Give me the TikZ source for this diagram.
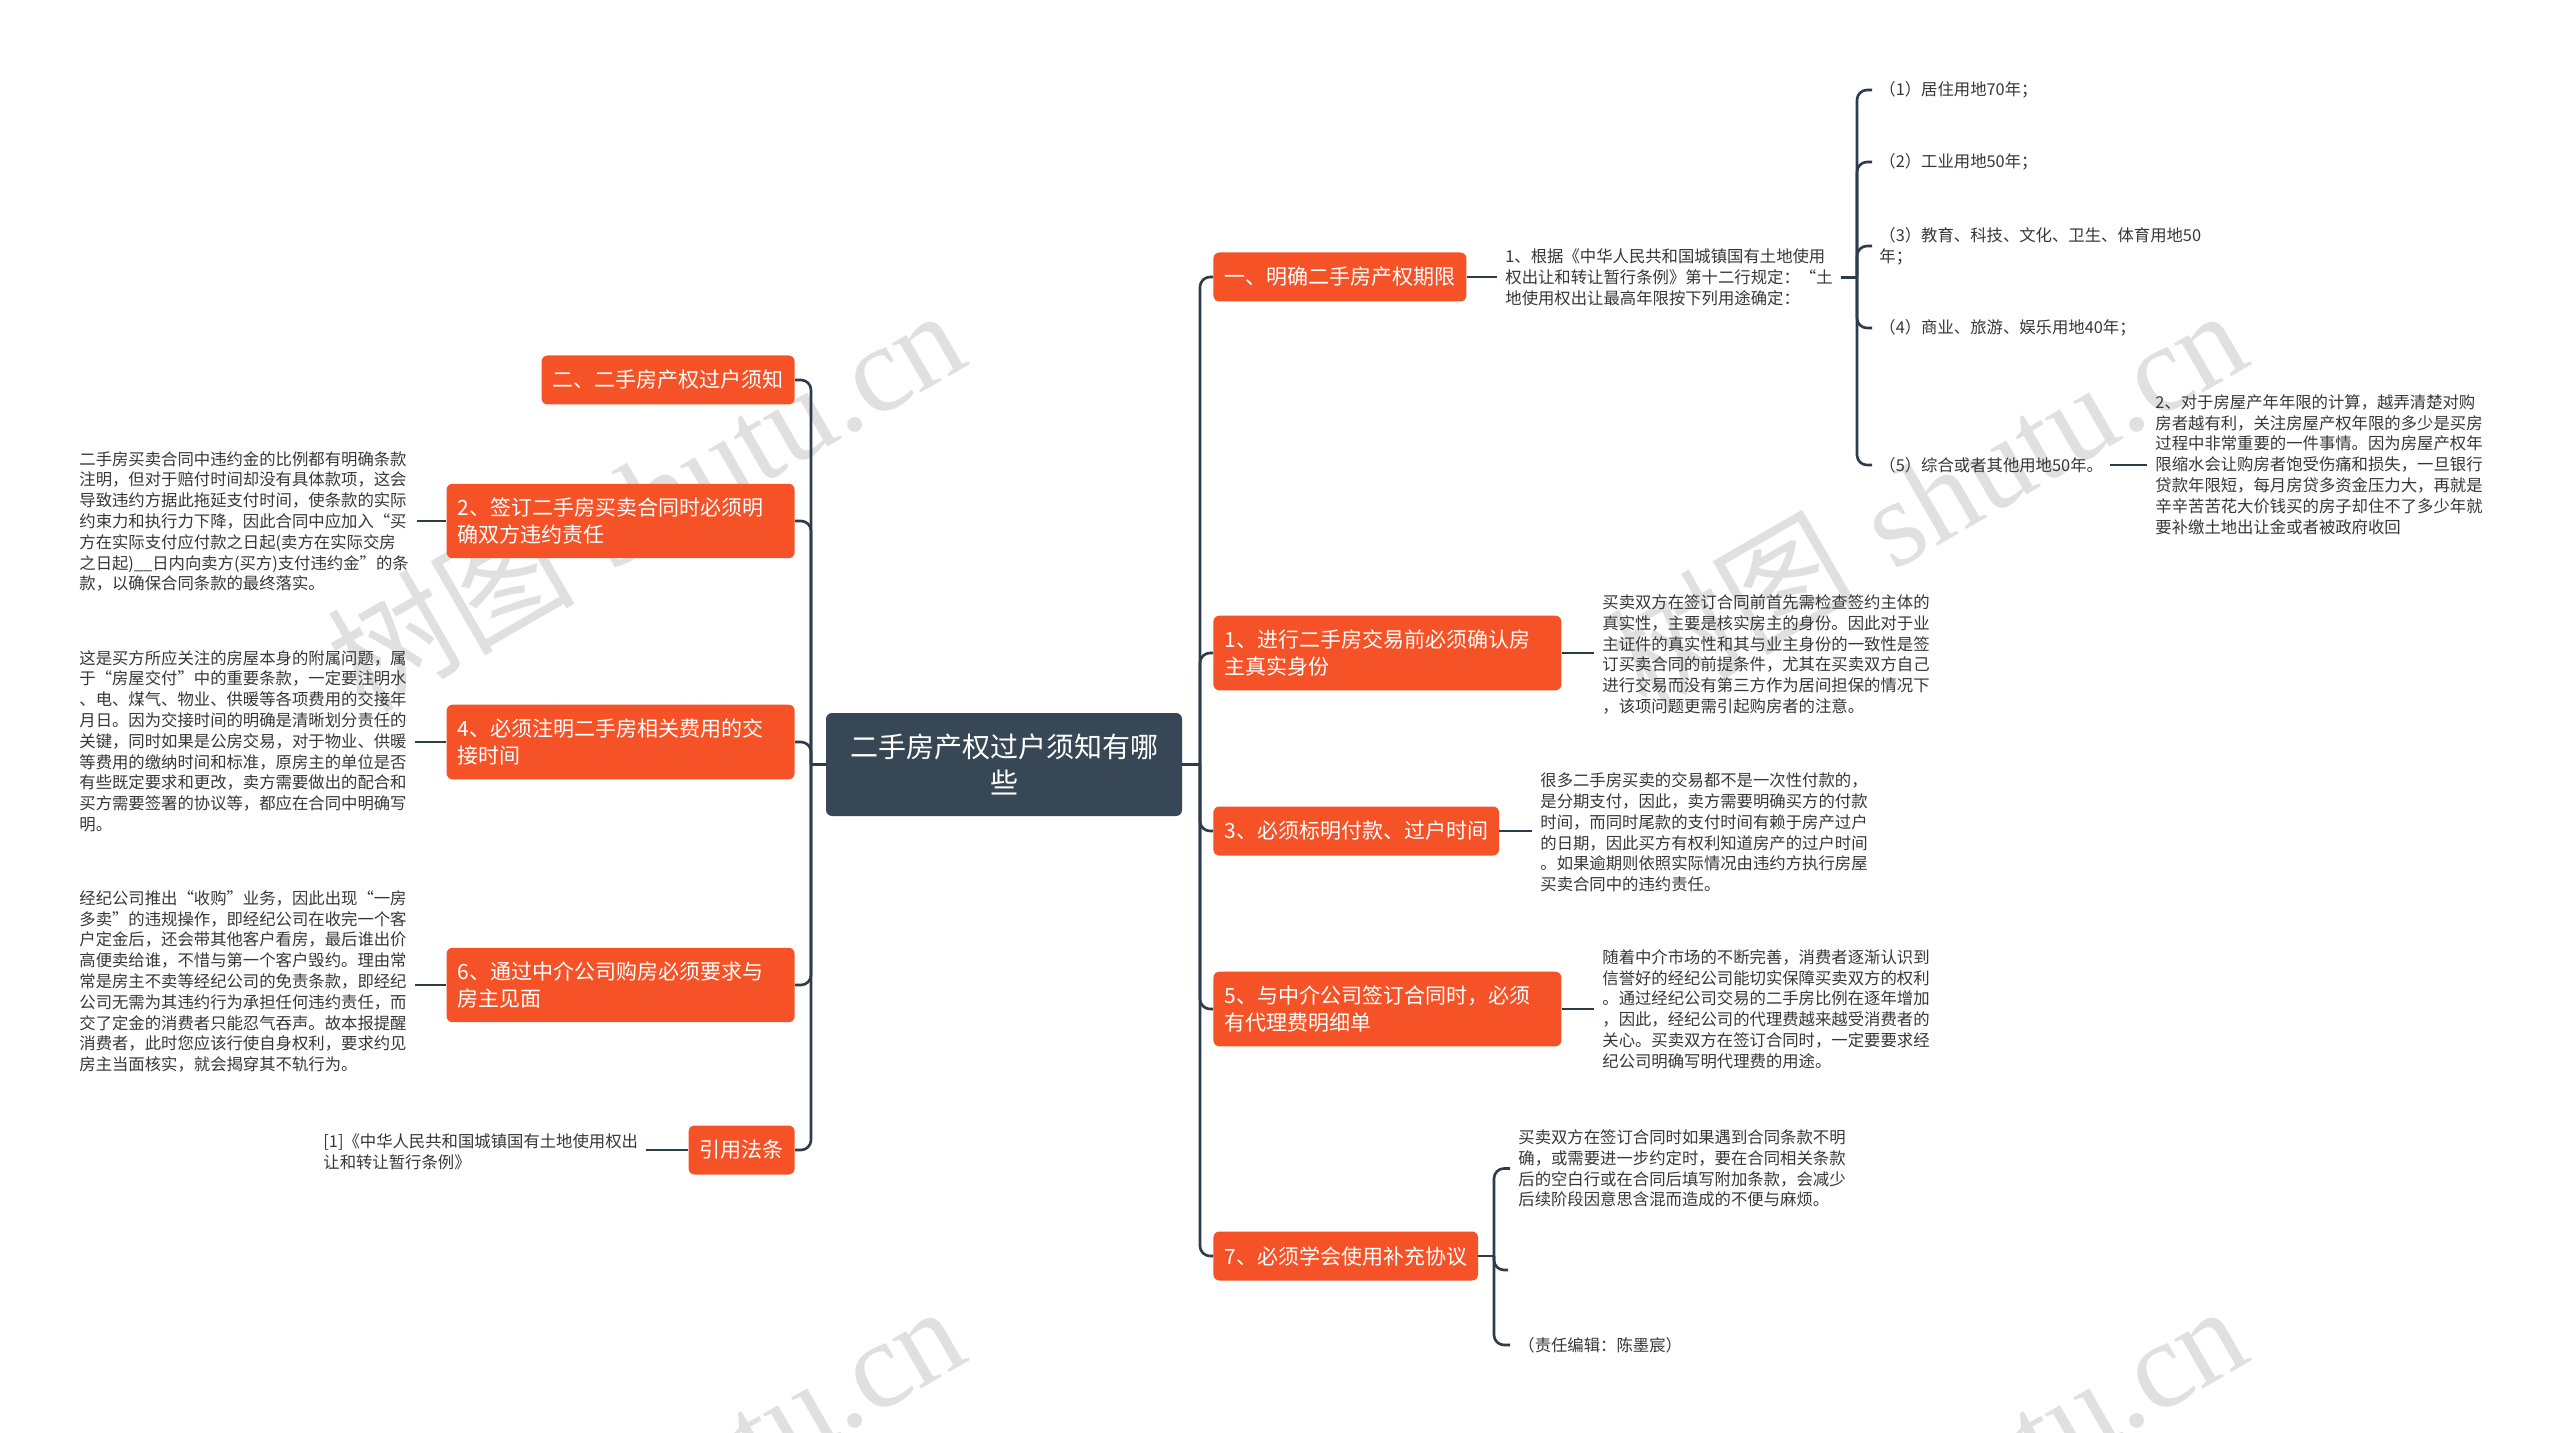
\documentclass[tikz,border=0pt]{standalone}
\usepackage{fontspec}
\newfontfamily\cjk{Noto Sans CJK SC}
\newfontfamily\wmfont{Liberation Serif}
\definecolor{orangec}{RGB}{245,82,40}
\definecolor{darkc}{RGB}{55,71,86}
\definecolor{linec}{RGB}{45,60,75}
\definecolor{textc}{RGB}{55,55,55}
\definecolor{wmc}{RGB}{224,224,224}
\begin{document}
\begin{tikzpicture}[x=0.5pt,y=-0.5pt,
  conn/.style={draw=linec, line width=1.3pt},
  rconn/.style={conn, rounded corners=5pt},
  branch/.style={fill=orangec, text=white, rounded corners=3pt,
    font=\cjk\fontsize{10.5pt}{13.5pt}\selectfont, inner xsep=5.5pt, inner ysep=7pt,
    minimum height=24.5pt, align=left},
  branchtwo/.style={branch, text width=163pt},
  centerbox/.style={fill=darkc, text=white, rounded corners=3pt,
    font=\cjk\fontsize{14pt}{18pt}\selectfont, text width=160pt, align=center,
    minimum width=178pt, minimum height=51.5pt, inner sep=0pt},
  txt/.style={font=\cjk\fontsize{8.18pt}{10.4pt}\selectfont, text=textc, align=left,
    inner xsep=4pt, inner ysep=0pt},
  itemtxt/.style={txt, inner xsep=3.5pt},
  wm/.style={text=wmc, rotate=30, inner sep=0pt}
]
\useasboundingbox (0,0) rectangle (2560,1433);
\fill[white] (0,0) rectangle (2560,1433);

% watermarks
\begin{scope}
\clip (0,0) rectangle (2560,1433);
\node[wm] (w1) at (645,498) {\fontsize{62pt}{62pt}\selectfont{\cjk 树图} {\wmfont shutu.cn}};
\node[wm] (w2) at (1927,498) {\fontsize{62pt}{62pt}\selectfont{\cjk 树图} {\wmfont shutu.cn}};
\node[wm] (w3) at (645,1494) {\fontsize{62pt}{62pt}\selectfont{\cjk 树图} {\wmfont shutu.cn}};
\node[wm] (w4) at (1927,1494) {\fontsize{62pt}{62pt}\selectfont{\cjk 树图} {\wmfont shutu.cn}};
\end{scope}

% center
\node[centerbox] (c) at (1004,764.5) {二手房产权过户须知有哪\\些};

% right branches
\node[branch, anchor=west] (b1) at (1213,277) {一、明确二手房产权期限};
\node[branchtwo, anchor=west] (b2) at (1213,653) {1、进行二手房交易前必须确认房\\主真实身份};
\node[branch, anchor=west] (b3) at (1213,831) {3、必须标明付款、过户时间};
\node[branchtwo, anchor=west] (b4) at (1213,1009) {5、与中介公司签订合同时，必须\\有代理费明细单};
\node[branch, anchor=west] (b5) at (1213,1256) {7、必须学会使用补充协议};

% left branches
\node[branch, anchor=east] (lb1) at (795,380) {二、二手房产权过户须知};
\node[branchtwo, anchor=east] (lb2) at (795,521) {2、签订二手房买卖合同时必须明\\确双方违约责任};
\node[branchtwo, anchor=east] (lb3) at (795,742) {4、必须注明二手房相关费用的交\\接时间};
\node[branchtwo, anchor=east] (lb4) at (795,985) {6、通过中介公司购房必须要求与\\房主见面};
\node[branch, anchor=east] (lb5) at (795,1150) {引用法条};

% right texts
\node[txt, anchor=west] (t1) at (1497,277.5) {1、根据《中华人民共和国城镇国有土地使用\\权出让和转让暂行条例》第十二行规定：“土\\地使用权出让最高年限按下列用途确定：};
\node[itemtxt, anchor=west] (i1) at (1872,90) {（1）居住用地70年；};
\node[itemtxt, anchor=west] (i2) at (1872,162) {（2）工业用地50年；};
\node[itemtxt, anchor=west] (i3) at (1872,246) {（3）教育、科技、文化、卫生、体育用地50\\年；};
\node[itemtxt, anchor=west] (i4) at (1872,328) {（4）商业、旅游、娱乐用地40年；};
\node[itemtxt, anchor=west] (i5) at (1872,465) {（5）综合或者其他用地50年。};
\node[txt, anchor=west] (t1b) at (2147,464.5) {2、对于房屋产年年限的计算，越弄清楚对购\\房者越有利，关注房屋产权年限的多少是买房\\过程中非常重要的一件事情。因为房屋产权年\\限缩水会让购房者饱受伤痛和损失，一旦银行\\贷款年限短，每月房贷多资金压力大，再就是\\辛辛苦苦花大价钱买的房子却住不了多少年就\\要补缴土地出让金或者被政府收回};
\node[txt, anchor=west] (t2) at (1594,654.5) {买卖双方在签订合同前首先需检查签约主体的\\真实性，主要是核实房主的身份。因此对于业\\主证件的真实性和其与业主身份的一致性是签\\订买卖合同的前提条件，尤其在买卖双方自己\\进行交易而没有第三方作为居间担保的情况下\\，该项问题更需引起购房者的注意。};
\node[txt, anchor=west] (t3) at (1532,832.5) {很多二手房买卖的交易都不是一次性付款的，\\是分期支付，因此，卖方需要明确买方的付款\\时间，而同时尾款的支付时间有赖于房产过户\\的日期，因此买方有权利知道房产的过户时间\\。如果逾期则依照实际情况由违约方执行房屋\\买卖合同中的违约责任。};
\node[txt, anchor=west] (t4) at (1594,1009) {随着中介市场的不断完善，消费者逐渐认识到\\信誉好的经纪公司能切实保障买卖双方的权利\\。通过经纪公司交易的二手房比例在逐年增加\\，因此，经纪公司的代理费越来越受消费者的\\关心。买卖双方在签订合同时，一定要要求经\\纪公司明确写明代理费的用途。};
\node[txt, anchor=west] (t5) at (1510,1168.5) {买卖双方在签订合同时如果遇到合同条款不明\\确，或需要进一步约定时，要在合同相关条款\\后的空白行或在合同后填写附加条款，会减少\\后续阶段因意思含混而造成的不便与麻烦。};
\coordinate (e5) at (1508,1270);
\node[txt, anchor=west] (t6) at (1510,1345) {（责任编辑：陈墨宸）};

% left texts
\node[txt, anchor=west] (lt2) at (71,521.5) {二手房买卖合同中违约金的比例都有明确条款\\注明，但对于赔付时间却没有具体款项，这会\\导致违约方据此拖延支付时间，使条款的实际\\约束力和执行力下降，因此合同中应加入“买\\方在实际支付应付款之日起(卖方在实际交房\\之日起)\_\_日内向卖方(买方)支付违约金”的条\\款，以确保合同条款的最终落实。};
\node[txt, anchor=west] (lt3) at (71,741) {这是买方所应关注的房屋本身的附属问题，属\\于“房屋交付”中的重要条款，一定要注明水\\、电、煤气、物业、供暖等各项费用的交接年\\月日。因为交接时间的明确是清晰划分责任的\\关键，同时如果是公房交易，对于物业、供暖\\等费用的缴纳时间和标准，原房主的单位是否\\有些既定要求和更改，卖方需要做出的配合和\\买方需要签署的协议等，都应在合同中明确写\\明。};
\node[txt, anchor=west] (lt4) at (71,981.5) {经纪公司推出“收购”业务，因此出现“一房\\多卖”的违规操作，即经纪公司在收完一个客\\户定金后，还会带其他客户看房，最后谁出价\\高便卖给谁，不惜与第一个客户毁约。理由常\\常是房主不卖等经纪公司的免责条款，即经纪\\公司无需为其违约行为承担任何违约责任，而\\交了定金的消费者只能忍气吞声。故本报提醒\\消费者，此时您应该行使自身权利，要求约见\\房主当面核实，就会揭穿其不轨行为。};
\node[txt, anchor=west] (lt5) at (315,1152) {{[1]}《中华人民共和国城镇国有土地使用权出\\让和转让暂行条例》};

% trunks
\coordinate (jr) at (1200,764.5);
\coordinate (jl) at (811,764.5);
\draw[conn] (c.east) -- (jr);
\draw[conn] (c.west) -- (jl);
\foreach \n in {b1,b2,b3,b4,b5} \draw[rconn] (jr) |- (\n.west);
\foreach \n in {lb1,lb2,lb3,lb4,lb5} \draw[rconn] (jl) |- (\n.east);

% right children
\draw[conn] (b1.east) -- (b1.east -| t1.west);
\coordinate (j1) at (1857,277.5);
\draw[conn] (t1.east) -- (j1);
\foreach \n in {i1,i2,i3,i4,i5} \draw[rconn] (j1) |- (\n.west);
\draw[conn] (i5.east) -- (i5.east -| t1b.west);
\draw[conn] (b2.east) -- (b2.east -| t2.west);
\draw[conn] (b3.east) -- (b3.east -| t3.west);
\draw[conn] (b4.east) -- (b4.east -| t4.west);
\coordinate (j5) at (1494,1256);
\draw[conn] (b5.east) -- (j5);
\draw[rconn] (j5) |- (t5.west);
\draw[rconn] (j5) |- (e5);
\draw[rconn] (j5) |- (t6.west);

% left children
\draw[conn] (lb2.west) -- (lb2.west -| lt2.east);
\draw[conn] (lb3.west) -- (lb3.west -| lt3.east);
\draw[conn] (lb4.west) -- (lb4.west -| lt4.east);
\draw[conn] (lb5.west) -- (lb5.west -| lt5.east);
\end{tikzpicture}
\end{document}
